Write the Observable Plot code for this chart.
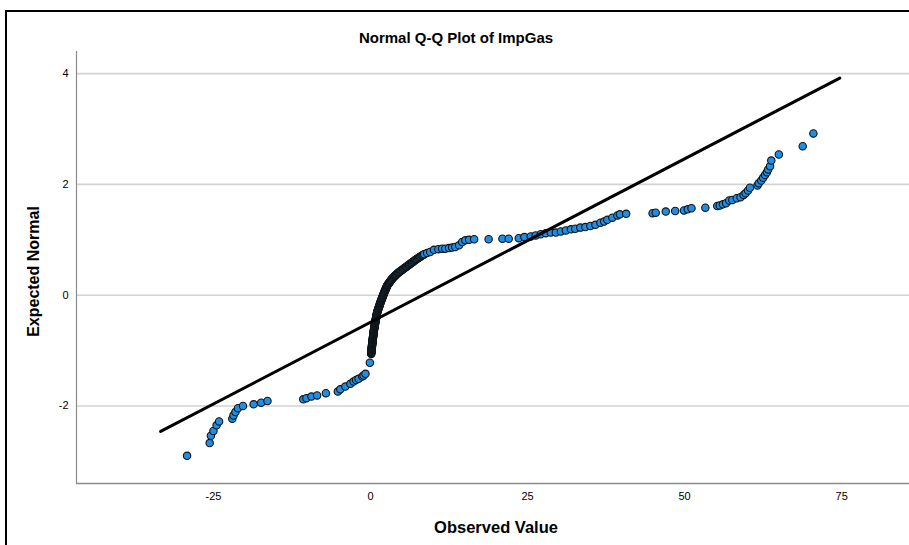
<!DOCTYPE html>
<html>
<head>
<meta charset="utf-8">
<script src="https://cdn.jsdelivr.net/npm/d3@7"></script>
<script src="https://cdn.jsdelivr.net/npm/@observablehq/plot@0.6"></script>
<style>
  html, body { margin: 0; padding: 0; background: #fff; overflow: hidden; }
  #chart { position: relative; width: 909px; height: 545px; overflow: hidden; }
  #chart svg { display: block; }
  /* outer chart border (open on the right and bottom edges of the view) */
  #border { position: absolute; left: 5px; top: 10px; width: 930px; height: 560px;
            border: 2px solid #000; pointer-events: none; }
</style>
</head>
<body>
<div id="chart"></div>
<script>
// Text
const titleText = "Normal Q-Q Plot of ImpGas";
const xLabel = "Observed Value";
const yLabel = "Expected Normal";

// Axes
const xTicks = [-25, 0, 25, 50, 75];
const yTicks = [-2, 0, 2, 4];
const xDomain = [-46.8, 85.8];
const yDomain = [-3.40, 4.40];

// Sorted observations with their expected normal scores: [observed, expected]
const lowerTail = [
  [-29.2, -2.90], [-25.6, -2.67], [-25.4, -2.54], [-25.0, -2.45], [-24.5, -2.35],
  [-24.1, -2.28], [-22.0, -2.23], [-21.8, -2.17], [-21.5, -2.11], [-21.1, -2.04],
  [-20.3, -2.00], [-18.6, -1.97], [-17.4, -1.94], [-16.4, -1.91], [-10.7, -1.88],
  [-10.2, -1.86], [-9.4, -1.83], [-8.5, -1.81], [-7.1, -1.77], [-5.2, -1.74],
  [-4.8, -1.70], [-4.0, -1.65], [-3.2, -1.60], [-2.7, -1.56], [-2.3, -1.53],
  [-1.9, -1.51], [-1.3, -1.47], [-1.1, -1.45], [-0.8, -1.42], [-0.1, -1.22]
];

const centralRun = [
  [0.11, -1.06], [0.12, -1.05], [0.13, -1.04], [0.14, -1.03], [0.15, -1.02],
  [0.155, -1.01], [0.16, -1.00], [0.17, -0.99], [0.18, -0.98], [0.19, -0.97],
  [0.20, -0.96], [0.21, -0.95], [0.22, -0.94], [0.225, -0.93], [0.23, -0.92],
  [0.24, -0.91], [0.25, -0.90], [0.26, -0.89], [0.27, -0.88], [0.28, -0.87],
  [0.29, -0.86], [0.30, -0.85], [0.31, -0.84], [0.32, -0.83], [0.34, -0.82],
  [0.35, -0.81], [0.36, -0.80], [0.37, -0.79], [0.38, -0.78], [0.39, -0.77],
  [0.40, -0.76], [0.41, -0.75], [0.42, -0.74], [0.43, -0.73], [0.44, -0.72],
  [0.45, -0.71], [0.47, -0.70], [0.48, -0.69], [0.49, -0.68], [0.50, -0.67],
  [0.51, -0.66], [0.52, -0.65], [0.53, -0.64], [0.55, -0.63], [0.56, -0.62],
  [0.58, -0.61], [0.59, -0.60], [0.61, -0.59], [0.62, -0.58], [0.64, -0.57],
  [0.65, -0.56], [0.67, -0.55], [0.68, -0.54], [0.70, -0.53], [0.71, -0.52],
  [0.73, -0.51], [0.74, -0.50], [0.76, -0.49], [0.77, -0.48], [0.79, -0.47],
  [0.80, -0.46], [0.82, -0.45], [0.84, -0.44], [0.86, -0.43], [0.87, -0.42],
  [0.89, -0.41], [0.91, -0.40], [0.93, -0.39], [0.94, -0.38], [0.96, -0.37],
  [0.98, -0.36], [1.00, -0.35], [1.01, -0.34], [1.03, -0.33], [1.05, -0.32],
  [1.07, -0.31], [1.09, -0.30], [1.12, -0.29], [1.15, -0.28], [1.18, -0.27],
  [1.20, -0.26], [1.23, -0.25], [1.26, -0.24], [1.30, -0.23], [1.33, -0.22],
  [1.36, -0.21], [1.39, -0.20], [1.42, -0.19], [1.44, -0.18], [1.47, -0.17],
  [1.50, -0.16], [1.53, -0.15], [1.56, -0.14], [1.59, -0.13], [1.62, -0.12],
  [1.66, -0.11], [1.69, -0.10], [1.73, -0.09], [1.76, -0.08], [1.79, -0.07],
  [1.82, -0.06], [1.86, -0.05], [1.89, -0.04], [1.92, -0.03], [1.95, -0.02],
  [1.99, -0.01], [2.02, 0.00], [2.06, 0.01], [2.09, 0.02], [2.12, 0.03],
  [2.16, 0.04], [2.20, 0.05], [2.23, 0.06], [2.27, 0.07], [2.31, 0.08],
  [2.35, 0.09], [2.38, 0.10], [2.42, 0.11], [2.46, 0.12], [2.50, 0.13],
  [2.53, 0.14], [2.57, 0.15], [2.60, 0.16], [2.64, 0.17], [2.69, 0.18],
  [2.75, 0.19], [2.82, 0.20], [2.88, 0.21], [2.95, 0.22], [3.01, 0.23],
  [3.08, 0.24], [3.14, 0.25], [3.20, 0.26], [3.27, 0.27], [3.33, 0.28],
  [3.40, 0.29], [3.46, 0.30], [3.55, 0.31], [3.64, 0.32], [3.72, 0.33],
  [3.81, 0.34], [3.90, 0.35], [3.99, 0.36], [4.07, 0.37], [4.16, 0.38],
  [4.26, 0.39], [4.37, 0.40], [4.48, 0.41], [4.60, 0.42], [4.71, 0.43],
  [4.83, 0.44], [4.95, 0.45], [5.07, 0.46], [5.18, 0.47], [5.30, 0.48],
  [5.42, 0.49], [5.54, 0.50], [5.66, 0.51], [5.78, 0.52], [5.90, 0.53],
  [6.01, 0.54], [6.13, 0.55], [6.25, 0.56], [6.37, 0.57], [6.49, 0.58],
  [6.61, 0.59], [6.73, 0.60], [6.85, 0.61], [6.96, 0.62], [7.08, 0.63],
  [7.20, 0.64], [7.32, 0.65], [7.44, 0.66], [7.58, 0.67], [7.72, 0.68],
  [7.86, 0.69], [8.00, 0.70], [8.14, 0.71], [8.28, 0.72], [8.42, 0.73],
  [8.55, 0.74]
];

const plateau = [
  [9.0, 0.76], [9.5, 0.78], [10.1, 0.82], [10.8, 0.83], [11.4, 0.84],
  [11.9, 0.84], [12.5, 0.85], [13.0, 0.86], [13.5, 0.87], [14.1, 0.90],
  [14.6, 0.96], [15.1, 0.99], [15.7, 1.00], [16.5, 1.01], [18.8, 1.01],
  [21.0, 1.02], [22.0, 1.02], [23.6, 1.03], [24.5, 1.05], [25.5, 1.06],
  [26.3, 1.08], [27.1, 1.10], [27.9, 1.12], [28.7, 1.13], [29.5, 1.13],
  [30.3, 1.15], [31.1, 1.17], [31.9, 1.19], [32.6, 1.20], [33.4, 1.22],
  [34.2, 1.23], [35.0, 1.25], [35.8, 1.27], [36.6, 1.31], [37.2, 1.33],
  [37.7, 1.36], [38.5, 1.40], [39.3, 1.44], [39.7, 1.46], [40.7, 1.47]
];

const upperTail = [
  [44.9, 1.48], [45.4, 1.49], [47.0, 1.51], [48.5, 1.52], [49.9, 1.53],
  [50.5, 1.55], [51.1, 1.57], [53.3, 1.58], [55.2, 1.61], [55.6, 1.62],
  [56.1, 1.64], [56.6, 1.66], [57.1, 1.71], [57.6, 1.72], [58.3, 1.75],
  [58.9, 1.77], [59.4, 1.81], [59.7, 1.84], [60.1, 1.89], [60.4, 1.94],
  [61.6, 1.98], [61.8, 2.02], [62.2, 2.07], [62.5, 2.12], [62.8, 2.17],
  [63.1, 2.22], [63.3, 2.27], [63.6, 2.33], [63.8, 2.43], [65.0, 2.54],
  [68.8, 2.69], [70.5, 2.92]
];

// Normal reference line endpoints
const refObserved = [-33.4, 74.7];
const refExpected = [-2.46, 3.92];

const points = [...lowerTail, ...centralRun, ...plateau, ...upperTail]
  .map(([observed, expected]) => ({observed, expected}));
const refLine = refObserved.map((x, i) => ({x, y: refExpected[i]}));

const font = "'Liberation Sans', Arial, sans-serif";
const plain = d => String(d);

const chart = Plot.plot({
  width: 909,
  height: 545,
  marginLeft: 76,
  marginRight: 0,
  marginTop: 51,
  marginBottom: 62,
  style: {fontFamily: font, color: "#000", background: "#fff"},
  x: {domain: xDomain},
  y: {domain: yDomain},
  marks: [
    Plot.ruleY(yTicks, {stroke: "#d2d2d2", strokeWidth: 1.6}),
    Plot.ruleX([xDomain[0]], {stroke: "#8a8a8a", strokeWidth: 1.2}),
    Plot.ruleY([yDomain[0]], {stroke: "#8a8a8a", strokeWidth: 1.6}),
    Plot.axisX(xTicks, {tickSize: 0, tickPadding: 9, fontSize: 11, label: null, tickFormat: plain}),
    Plot.axisY(yTicks, {tickSize: 0, tickPadding: 8, fontSize: 11, label: null, tickFormat: plain}),
    Plot.dot(points, {
      x: "observed", y: "expected", r: 3.7,
      fill: "#1e8fe4", stroke: "#111", strokeWidth: 1.1
    }),
    Plot.line(refLine, {x: "x", y: "y", stroke: "#000", strokeWidth: 3}),
    Plot.text([titleText], {
      frameAnchor: "top", dx: -37, dy: -13, textAnchor: "middle", lineAnchor: "middle",
      fontSize: 15, fontWeight: "bold", fill: "#000"
    }),
    Plot.text([xLabel], {
      frameAnchor: "bottom", dx: 3, dy: 44, textAnchor: "middle", lineAnchor: "middle",
      fontSize: 16.5, fontWeight: "bold", fill: "#000"
    }),
    Plot.text([yLabel], {
      frameAnchor: "left", dx: -43, dy: 4, rotate: -90, textAnchor: "middle", lineAnchor: "middle",
      fontSize: 16, fontWeight: "bold", fill: "#000"
    })
  ]
});

const host = document.getElementById("chart");
host.appendChild(chart);
const border = document.createElement("div");
border.id = "border";
host.appendChild(border);
</script>
</body>
</html>
